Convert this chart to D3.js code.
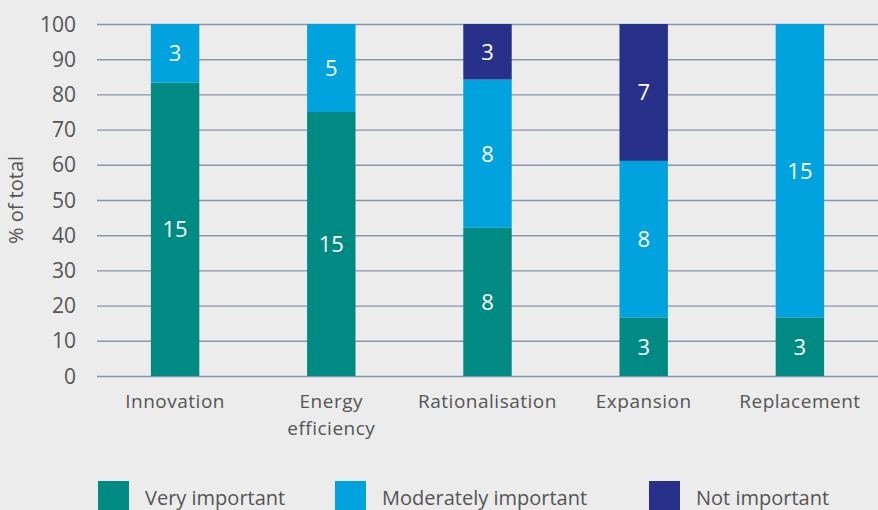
<!DOCTYPE html>
<html><head><meta charset="utf-8">
<script src="https://cdn.jsdelivr.net/npm/d3@7"></script>
<style>
html,body{margin:0;padding:0;background:#ececec;}
svg{display:block;font-family:"Open Sans",sans-serif;}
</style></head>
<body>
<svg id="c" width="878" height="510"></svg>
<script>
const categories = ["Innovation", "Energy efficiency", "Rationalisation", "Expansion", "Replacement"];
const seriesNames = ["Very important", "Moderately important", "Not important"];
const veryImportant = [15, 15, 8, 3, 3];
const moderatelyImportant = [3, 5, 8, 8, 15];
const notImportant = [0, 0, 3, 7, 0];
const yTicks = [0, 10, 20, 30, 40, 50, 60, 70, 80, 90, 100];
const colors = ["#008a84", "#00a3dd", "#27318a"];

const rows = categories.map((c, i) => {
  const tot = veryImportant[i] + moderatelyImportant[i] + notImportant[i];
  return {cat: c, counts: [veryImportant[i], moderatelyImportant[i], notImportant[i]], tot};
});

const svg = d3.select("#c");
const mLeft = 97, mRight = 878, mTop = 24, mBottom = 376;
const x = d3.scaleBand().domain(categories).range([mLeft, mRight]).paddingInner(0.69).paddingOuter(0.345);
const y = d3.scaleLinear().domain([0, 100]).range([mBottom, mTop]);

// gridlines
svg.append("g").selectAll("line").data(yTicks).join("line")
  .attr("x1", mLeft).attr("x2", mRight)
  .attr("y1", d => y(d) + 0.5).attr("y2", d => y(d) + 0.5)
  .attr("stroke", "#8796aa").attr("stroke-width", 1.4);

// y tick labels
svg.append("g").selectAll("text").data(yTicks).join("text")
  .attr("x", 76).attr("y", d => y(d)).attr("dy", "0.36em")
  .attr("text-anchor", "end").attr("fill", "#555").attr("font-size", 21)
  .text(d => d);

// axis title
svg.append("text").attr("transform", "translate(23,200) rotate(-90)")
  .attr("text-anchor", "middle").attr("fill", "#555").attr("font-size", 20)
  .text("% of total");

// bars
rows.forEach(r => {
  let cum = 0;
  r.counts.forEach((v, k) => {
    if (v === 0) return;
    const p0 = cum / r.tot * 100, p1 = (cum + v) / r.tot * 100;
    cum += v;
    svg.append("rect").attr("x", x(r.cat)).attr("width", x.bandwidth())
      .attr("y", y(p1)).attr("height", y(p0) - y(p1)).attr("fill", colors[k]);
    svg.append("text").attr("x", x(r.cat) + x.bandwidth() / 2)
      .attr("y", (y(p0) + y(p1)) / 2).attr("dy", "0.36em")
      .attr("text-anchor", "middle").attr("fill", "#fff").attr("font-size", 22)
      .text(v);
  });
});

// category labels
const catG = svg.append("g");
categories.forEach(c => {
  const words = c === "Energy efficiency" ? ["Energy", "efficiency"] : [c];
  const t = catG.append("text").attr("x", x(c) + x.bandwidth() / 2).attr("y", 408)
    .attr("text-anchor", "middle").attr("fill", "#555").attr("font-size", 19)
    .attr("letter-spacing", 0.5);
  words.forEach((w, i) => t.append("tspan").attr("x", x(c) + x.bandwidth() / 2)
    .attr("dy", i === 0 ? 0 : 27).text(w));
});

// legend
const legX = [98, 335, 649];
seriesNames.forEach((s, k) => {
  svg.append("rect").attr("x", legX[k]).attr("y", 481).attr("width", 31).attr("height", 32).attr("fill", colors[k]);
  svg.append("text").attr("x", legX[k] + 47).attr("y", 505).attr("fill", "#555").attr("font-size", 20).text(s);
});
</script>
</body></html>
